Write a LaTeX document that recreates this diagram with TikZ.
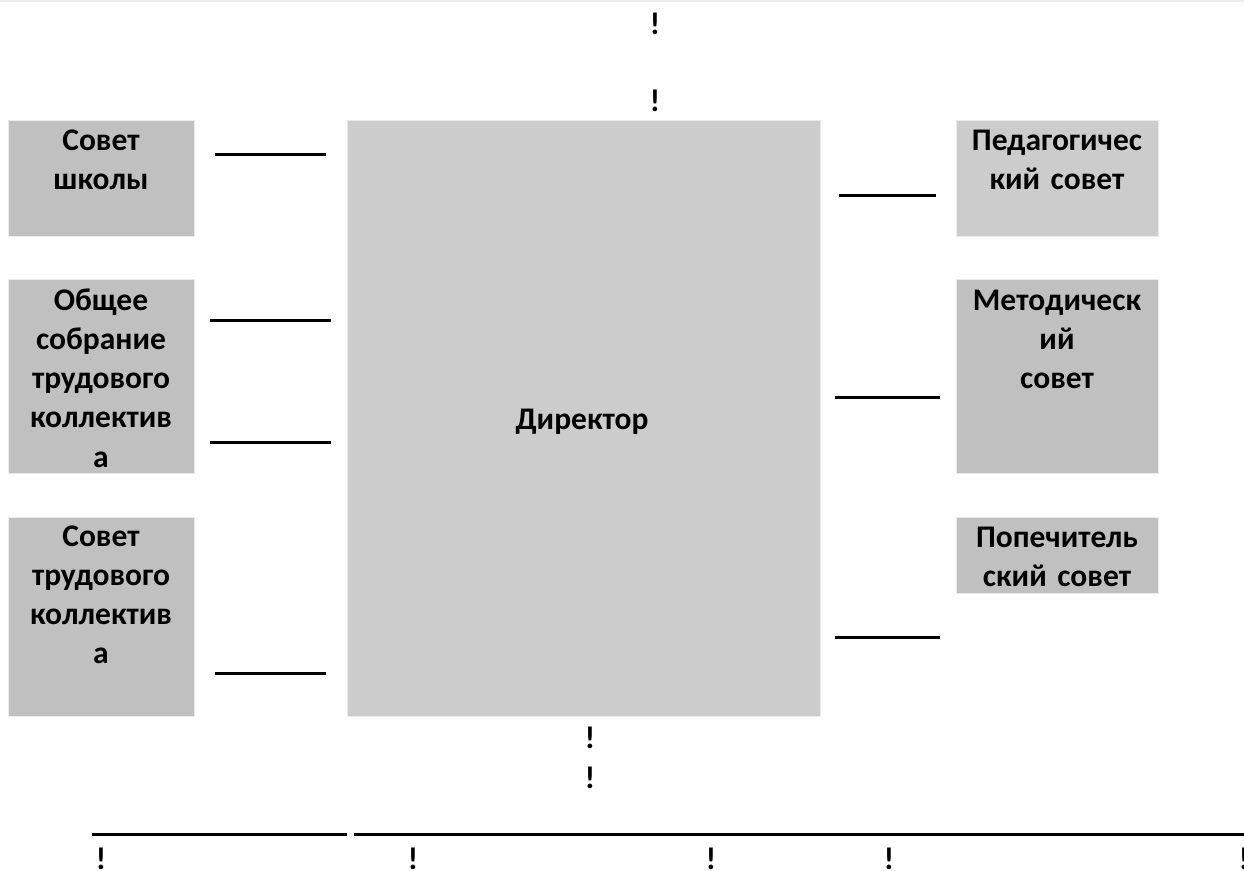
\documentclass[tikz,border=0pt]{standalone}
\usepackage{fontspec}
\setmainfont{Carlito}
\definecolor{boxdark}{HTML}{C0C0C0}
\definecolor{boxlight}{HTML}{CCCCCC}
\tikzset{
  box/.style={fill=#1, draw=black!8, line width=1pt, inner sep=0pt, anchor=north west},
  lbl/.style={font=\bfseries\fontsize{31.5}{39.3}\selectfont, text width=200pt, align=center, inner sep=0pt, anchor=base},
  bang/.style={font=\bfseries\fontsize{31.5}{39.3}\selectfont, inner sep=0pt, anchor=base},
  rule/.style={line width=3pt}
}
\begin{document}
\begin{tikzpicture}[x=1pt,y=-1pt] %Структура управления
            \useasboundingbox (0,0) rectangle (1244,870);
            \draw[black!7, line width=2pt] (0,1) -- (1244,1);

            \node[box=boxdark, minimum width=186, minimum height=116] (sovet) at (8,120) {};
            \node[box=boxdark, minimum width=186, minimum height=194] (sobranie) at (8,279) {};
            \node[box=boxdark, minimum width=186, minimum height=199] (trud) at (8,517) {};
            \node[box=boxlight, minimum width=473, minimum height=596] (dir) at (347,120) {};
            \node[box=boxlight, minimum width=202, minimum height=116] (ped) at (956,120) {};
            \node[box=boxdark, minimum width=202, minimum height=194] (met) at (956,279) {};
            \node[box=boxdark, minimum width=202, minimum height=76] (pop) at (956,517) {};

            \node[lbl] (sovetT) at (101,150) {Совет\\школы};
            \node[lbl] (sobranieT) at (101,310) {Общее\\собрание\\трудового\\коллектив\\а};
            \node[lbl] (trudT) at (101,546) {Совет\\трудового\\коллектив\\а};
            \node[lbl] (dirT) at (582,429) {Директор};
            \node[lbl] (pedT) at (1057,150) {Педагогичес\\кий совет};
            \node[lbl] (metT) at (1057,310) {Методическ\\ий\\совет};
            \node[lbl] (popT) at (1057,547) {Попечитель\\ский совет};

            \draw[rule] (215,154) -- (326,154);
            \draw[rule] (210,320) -- (331,320);
            \draw[rule] (210,442) -- (331,442);
            \draw[rule] (215,673) -- (326,673);
            \draw[rule] (839,195) -- (936,195);
            \draw[rule] (835,397) -- (940,397);
            \draw[rule] (835,637) -- (940,637);
            \draw[rule] (92,834.5) -- (347,834.5);
            \draw[rule] (354,834.5) -- (1244,834.5);

            \node[bang] (t1) at (655,34) {!};
            \node[bang] (t2) at (655,111) {!};
            \node[bang] (d1) at (590,748) {!};
            \node[bang] (d2) at (590,788) {!};
            \node[bang] (b1) at (101,869) {!};
            \node[bang] (b2) at (413,869) {!};
            \node[bang] (b3) at (711,869) {!};
            \node[bang] (b4) at (889,869) {!};
            \node[bang] (b5) at (1244,869) {!};
        \end{tikzpicture}
\end{document}
